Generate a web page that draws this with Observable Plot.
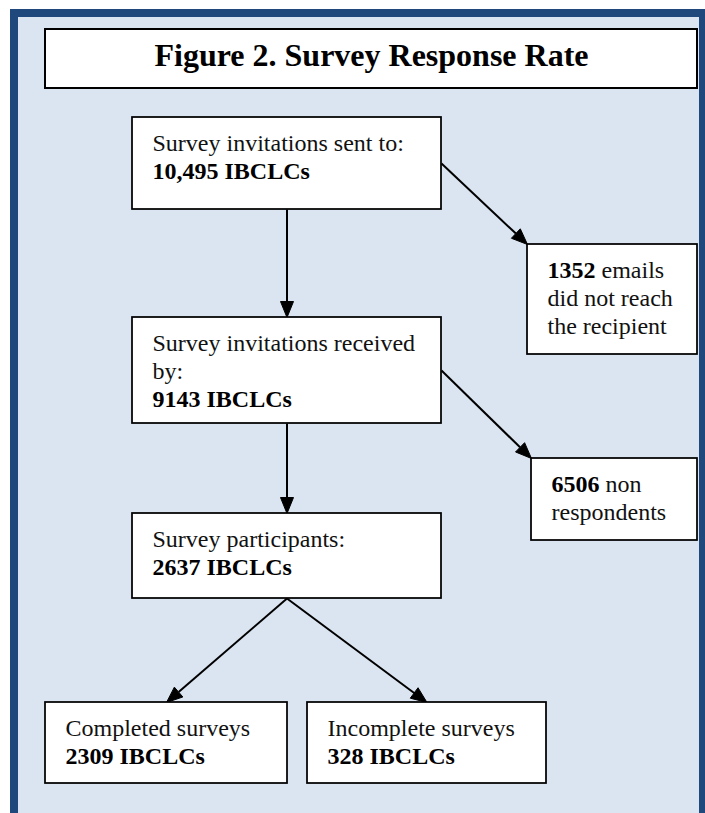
<!DOCTYPE html>
<html><head><meta charset="utf-8">
<script src="https://cdn.jsdelivr.net/npm/d3@7"></script>
<script src="https://cdn.jsdelivr.net/npm/@observablehq/plot@0.6"></script>
<style>html,body{margin:0;padding:0;background:#fff;}</style>
</head><body><div id="chart"></div>
<script>
// ---------- DATA ----------
const title = "Figure 2. Survey Response Rate";
const stepIds = ["sent", "received", "participants", "bounced", "nonresp", "completed", "incomplete"];
const stepCounts = ["10,495", "9143", "2637", "1352", "6506", "2309", "328"];
// each line: [prefix (regular), bold part, suffix (regular)]
const stepLines = [
  [["Survey invitations sent to:", "", ""], ["", "{n} IBCLCs", ""]],
  [["Survey invitations received", "", ""], ["by:", "", ""], ["", "{n} IBCLCs", ""]],
  [["Survey participants:", "", ""], ["", "{n} IBCLCs", ""]],
  [["", "{n}", " emails"], ["did not reach", "", ""], ["the recipient", "", ""]],
  [["", "{n}", " non"], ["respondents", "", ""]],
  [["Completed surveys", "", ""], ["", "{n} IBCLCs", ""]],
  [["Incomplete surveys", "", ""], ["", "{n} IBCLCs", ""]]
];
const flowFrom = ["sent", "sent", "received", "received", "participants", "participants"];
const flowTo   = ["received", "bounced", "participants", "nonresp", "completed", "incomplete"];

// ---------- LAYOUT (positions / styles) ----------
const W = 705, H = 813;
const boxLayout = {
  sent:         [132, 117, 441, 209],
  received:     [132, 317, 441, 423],
  participants: [132, 513, 441, 598],
  bounced:      [527, 244, 697, 354],
  nonresp:      [531, 458, 697, 540],
  completed:    [45, 702, 287, 783],
  incomplete:   [307, 702, 546, 783]
};
const edgeAnchors = [["bottom","top"],["right","topleft"],["bottom","top"],["right","topleft"],["bottom","top"],["bottom","top"]];
const frameOuter = [10, 9, W + 5, H + 5];
const frameInner = [18, 17, 699, H + 5];
const titleBox = [45, 29, 697, 88];
const FONT = "Liberation Serif, Times New Roman, serif";
const FS = 24, LH = 28, PADX = 20, FIRSTBASE = 33;
const TITLE_FS = 32;
const HEAD_LEN = 16, HEAD_HALF = 6.5;

// ---------- BUILD ----------
const ctx = document.createElement("canvas").getContext("2d");
function tw(s, bold) { ctx.font = `${bold ? "bold " : ""}${FS}px "Liberation Serif"`; return ctx.measureText(s).width; }

const boxes = stepIds.map(id => { const [x1,y1,x2,y2] = boxLayout[id]; return {id, x1, y1, x2, y2}; });

const segs = [];
stepIds.forEach((id, i) => {
  const [x1, y1] = boxLayout[id];
  stepLines[i].forEach((ln, j) => {
    let x = x1 + PADX;
    const y = y1 + FIRSTBASE + j * LH;
    ln.forEach((part, k) => {
      const txt = part.replace("{n}", stepCounts[i]);
      if (!txt) return;
      const bold = k === 1;
      segs.push({x, y, text: txt, bold});
      x += tw(txt, bold);
    });
  });
});

function anchor(id, a) {
  const [x1,y1,x2,y2] = boxLayout[id];
  if (a === "bottom") return [(x1+x2)/2, y2];
  if (a === "top") return [(x1+x2)/2, y1];
  if (a === "right") return [x2, (y1+y2)/2];
  if (a === "topleft") return [x1, y1];
}
const edges = flowFrom.map((f, i) => {
  const [sx, sy] = anchor(f, edgeAnchors[i][0]);
  const [tx, ty] = anchor(flowTo[i], edgeAnchors[i][1]);
  const dx = tx - sx, dy = ty - sy, L = Math.hypot(dx, dy);
  const ux = dx / L, uy = dy / L;
  const bx = tx - ux * HEAD_LEN, by = ty - uy * HEAD_LEN;
  return {i, sx, sy, tx, ty, bx, by, ux, uy};
});
const heads = [];
edges.forEach(e => {
  heads.push({k: e.i, x: e.tx, y: e.ty});
  heads.push({k: e.i, x: e.bx - e.uy * HEAD_HALF, y: e.by + e.ux * HEAD_HALF});
  heads.push({k: e.i, x: e.bx + e.uy * HEAD_HALF, y: e.by - e.ux * HEAD_HALF});
  heads.push({k: e.i, x: e.tx, y: e.ty});
});

const chart = Plot.plot({
  width: W, height: H,
  margin: 0,
  x: {domain: [0, W], range: [0, W], axis: null},
  y: {domain: [0, H], range: [0, H], axis: null},
  style: {background: "white", fontFamily: FONT},
  marks: [
    Plot.rect([frameOuter], {x1: d => d[0], y1: d => d[1], x2: d => d[2], y2: d => d[3], fill: "#1f497d"}),
    Plot.rect([frameInner], {x1: d => d[0], y1: d => d[1], x2: d => d[2], y2: d => d[3], fill: "#dbe5f1"}),
    Plot.rect([titleBox], {x1: d => d[0], y1: d => d[1]+1, x2: d => d[2], y2: d => d[3]+1, fill: "#8c8c8c"}),
    Plot.rect([titleBox], {x1: d => d[0], y1: d => d[1], x2: d => d[2], y2: d => d[3], fill: "white", stroke: "black", strokeWidth: 2}),
    Plot.text([title], {x: (titleBox[0] + titleBox[2]) / 2, y: 65, text: d => d, fontSize: TITLE_FS, fontWeight: "bold", fill: "black", lineAnchor: "bottom", textAnchor: "middle", fontFamily: FONT}),
    Plot.link(edges, {x1: "sx", y1: "sy", x2: "bx", y2: "by", stroke: "black", strokeWidth: 2}),
    Plot.line(heads, {x: "x", y: "y", z: "k", fill: "black", stroke: "black", strokeWidth: 1, strokeLinejoin: "miter"}),
    Plot.rect(boxes, {x1: "x1", y1: "y1", x2: "x2", y2: "y2", fill: "white", stroke: "black", strokeWidth: 1.75}),
    Plot.text(segs.filter(d => !d.bold), {x: "x", y: "y", text: "text", fontSize: FS, fill: "#111", textAnchor: "start", lineAnchor: "bottom", fontFamily: FONT}),
    Plot.text(segs.filter(d => d.bold), {x: "x", y: "y", text: "text", fontSize: FS, fontWeight: "bold", fill: "black", textAnchor: "start", lineAnchor: "bottom", fontFamily: FONT})
  ]
});
document.getElementById("chart").appendChild(chart);
</script></body></html>
